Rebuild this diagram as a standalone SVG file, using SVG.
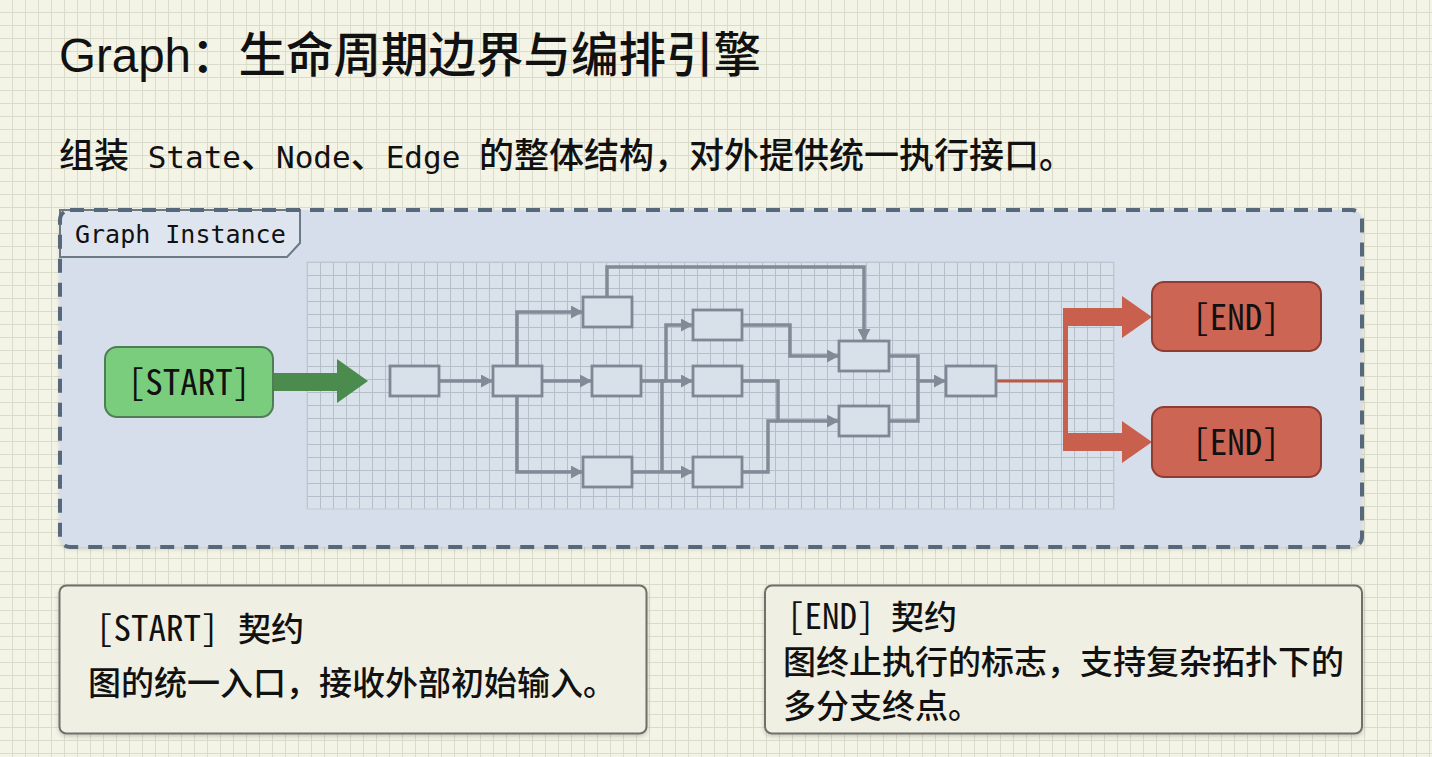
<svg xmlns="http://www.w3.org/2000/svg" width="1432" height="757" viewBox="0 0 1432 757">
  <defs>
    <pattern id="pageGrid" width="13" height="13" patternUnits="userSpaceOnUse">
      <rect width="13" height="13" fill="#f3f3e6"/>
      <path d="M12.5,0 V13 M0,12.5 H13" stroke="#dadccb" stroke-width="1" fill="none"/>
    </pattern>
    <pattern id="panelGrid" x="307" y="262" width="13" height="13" patternUnits="userSpaceOnUse">
      <rect width="13" height="13" fill="#d9e1eb"/>
      <path d="M0.5,0 V13 M0,0.5 H13" stroke="#b5bfca" stroke-width="1" fill="none"/>
    </pattern>
    <marker id="arr" viewBox="0 0 12 13" markerWidth="12" markerHeight="13" refX="12" refY="6.5" orient="auto" markerUnits="userSpaceOnUse">
      <path d="M0,0 L12,6.5 L0,13 z" fill="#808b97"/>
    </marker>
    <filter id="shadow" x="-5%" y="-5%" width="110%" height="115%">
      <feDropShadow dx="0" dy="2" stdDeviation="2" flood-color="#000" flood-opacity="0.18"/>
    </filter>
  </defs>
  <style>
    .title { font-family: "Liberation Sans", "Noto Sans CJK SC", sans-serif; font-size: 47.5px; font-weight: 500; fill: #111; }
    .sub { font-family: "Noto Sans CJK SC", sans-serif; font-size: 35px; font-weight: 500; fill: #111; white-space: pre; }
    .mono { font-family: "DejaVu Sans Mono", monospace; font-size: 31px; font-weight: 400; }
    .tabtxt { font-family: "DejaVu Sans Mono", monospace; font-size: 25px; fill: #111; }
    .nodetxt { font-family: "Noto Sans Mono CJK SC", "DejaVu Sans Mono", monospace; font-size: 35px; fill: #111; text-anchor: middle; }
    .box { fill: #d8e0ea; stroke: #7d8894; stroke-width: 2.8; }
    .edge { fill: none; stroke: #808b97; stroke-width: 3.5; }
    .note { fill: #efefe3; stroke: #6f706a; stroke-width: 2; }
    .notetxt { font-family: "Noto Sans CJK SC", sans-serif; font-size: 33px; font-weight: 500; fill: #111; white-space: pre; }
    .notemono { font-family: "Noto Sans Mono CJK SC", "DejaVu Sans Mono", monospace; font-size: 35px; font-weight: 400; }
  </style>

  <rect width="1432" height="757" fill="url(#pageGrid)"/>

  <text class="title" x="59" y="72">Graph：生命周期边界与编排引擎</text>
  <text class="sub" x="59" y="168">组装<tspan class="mono"> State</tspan>、<tspan class="mono">Node</tspan>、<tspan class="mono">Edge </tspan>的整体结构，对外提供统一执行接口。</text>

  <g id="graph-instance">
    <rect x="60" y="210" width="1302" height="337" rx="10" fill="#d5deea" filter="url(#shadow)"/>
    <rect x="307" y="262" width="807" height="247" fill="url(#panelGrid)" stroke="#c3ccd6" stroke-width="1"/>
    <path d="M60,210 H300 V243 L287,257 H60 Z" fill="#dfe5ee" stroke="#6c7a88" stroke-width="2"/>
    <text class="tabtxt" x="75" y="243">Graph Instance</text>
    <rect x="60" y="210" width="1302" height="337" rx="10" fill="none" stroke="#56687a" stroke-width="4" stroke-dasharray="14 10"/>
  </g>

  <g id="connectors">
    <polygon points="273,373 337,373 337,359 368,381 337,403 337,391 273,391" fill="#4b8b4e"/>
    <path class="edge" d="M439,381 H493" marker-end="url(#arr)"/>
    <path class="edge" d="M542,381 H592" marker-end="url(#arr)"/>
    <path class="edge" d="M517,366 V312 H583" marker-end="url(#arr)"/>
    <path class="edge" d="M517,396 V472 H583" marker-end="url(#arr)"/>
    <path class="edge" d="M607,297 V267 H864 V341" marker-end="url(#arr)"/>
    <path class="edge" d="M641,381 H693" marker-end="url(#arr)"/>
    <path class="edge" d="M666,381 V325 H693" marker-end="url(#arr)"/>
    <path class="edge" d="M632,472 H693" marker-end="url(#arr)"/>
    <path class="edge" d="M662,472 V381 H666"/>
    <path class="edge" d="M742,325 H790 V356 H839" marker-end="url(#arr)"/>
    <path class="edge" d="M742,381 H778 V421 H839" marker-end="url(#arr)"/>
    <path class="edge" d="M742,472 H768 V421 H778"/>
    <path class="edge" d="M889,356 H918 V381"/>
    <path class="edge" d="M889,421 H918 V381 H946" marker-end="url(#arr)"/>
    <line x1="996" y1="381" x2="1066" y2="381" stroke="#b95a49" stroke-width="3"/>
    <rect x="1063" y="308" width="5" height="142" fill="#c9604e"/>
    <polygon points="1063,308 1122,308 1122,296 1152,317 1122,338 1122,326 1063,326" fill="#c9604e"/>
    <polygon points="1063,433 1122,433 1122,421 1152,442 1122,463 1122,451 1063,451" fill="#c9604e"/>
  </g>

  <g id="start">
    <rect x="105" y="347" width="168" height="70" rx="12" fill="#7acd7d" stroke="#4d7f52" stroke-width="2"/>
    <text class="nodetxt" x="189" y="395">[START]</text>
  </g>
  <g id="n1"><rect class="box" x="390" y="366" width="49" height="30"/></g>
  <g id="n2"><rect class="box" x="493" y="366" width="49" height="30"/></g>
  <g id="n3"><rect class="box" x="583" y="297" width="49" height="30"/></g>
  <g id="n4"><rect class="box" x="592" y="366" width="49" height="30"/></g>
  <g id="n5"><rect class="box" x="583" y="457" width="49" height="30"/></g>
  <g id="n6"><rect class="box" x="693" y="310" width="49" height="30"/></g>
  <g id="n7"><rect class="box" x="693" y="366" width="49" height="30"/></g>
  <g id="n8"><rect class="box" x="693" y="457" width="49" height="30"/></g>
  <g id="n9"><rect class="box" x="839" y="341" width="50" height="30"/></g>
  <g id="n10"><rect class="box" x="839" y="406" width="50" height="30"/></g>
  <g id="n11"><rect class="box" x="946" y="366" width="50" height="30"/></g>
  <g id="end1">
    <rect x="1152" y="282" width="169" height="69" rx="12" fill="#cc6554" stroke="#8f3d32" stroke-width="2"/>
    <text class="nodetxt" x="1236" y="330">[END]</text>
  </g>
  <g id="end2">
    <rect x="1152" y="407" width="169" height="70" rx="12" fill="#cc6554" stroke="#8f3d32" stroke-width="2"/>
    <text class="nodetxt" x="1236" y="455">[END]</text>
  </g>

  <g id="start-contract">
    <rect class="note" x="59.5" y="585.5" width="587" height="148" rx="7" filter="url(#shadow)"/>
    <text class="notetxt" x="96" y="641"><tspan class="notemono">[START]</tspan><tspan x="238">契约</tspan></text>
    <text class="notetxt" x="88" y="695">图的统一入口，接收外部初始输入。</text>
  </g>
  <g id="end-contract">
    <rect class="note" x="765" y="585.5" width="597" height="148" rx="7" filter="url(#shadow)"/>
    <text class="notetxt" x="787" y="629"><tspan class="notemono">[END]</tspan><tspan x="891">契约</tspan></text>
    <text class="notetxt" x="783" y="674">图终止执行的标志，支持复杂拓扑下的</text>
    <text class="notetxt" x="783" y="718">多分支终点。</text>
  </g>
</svg>
